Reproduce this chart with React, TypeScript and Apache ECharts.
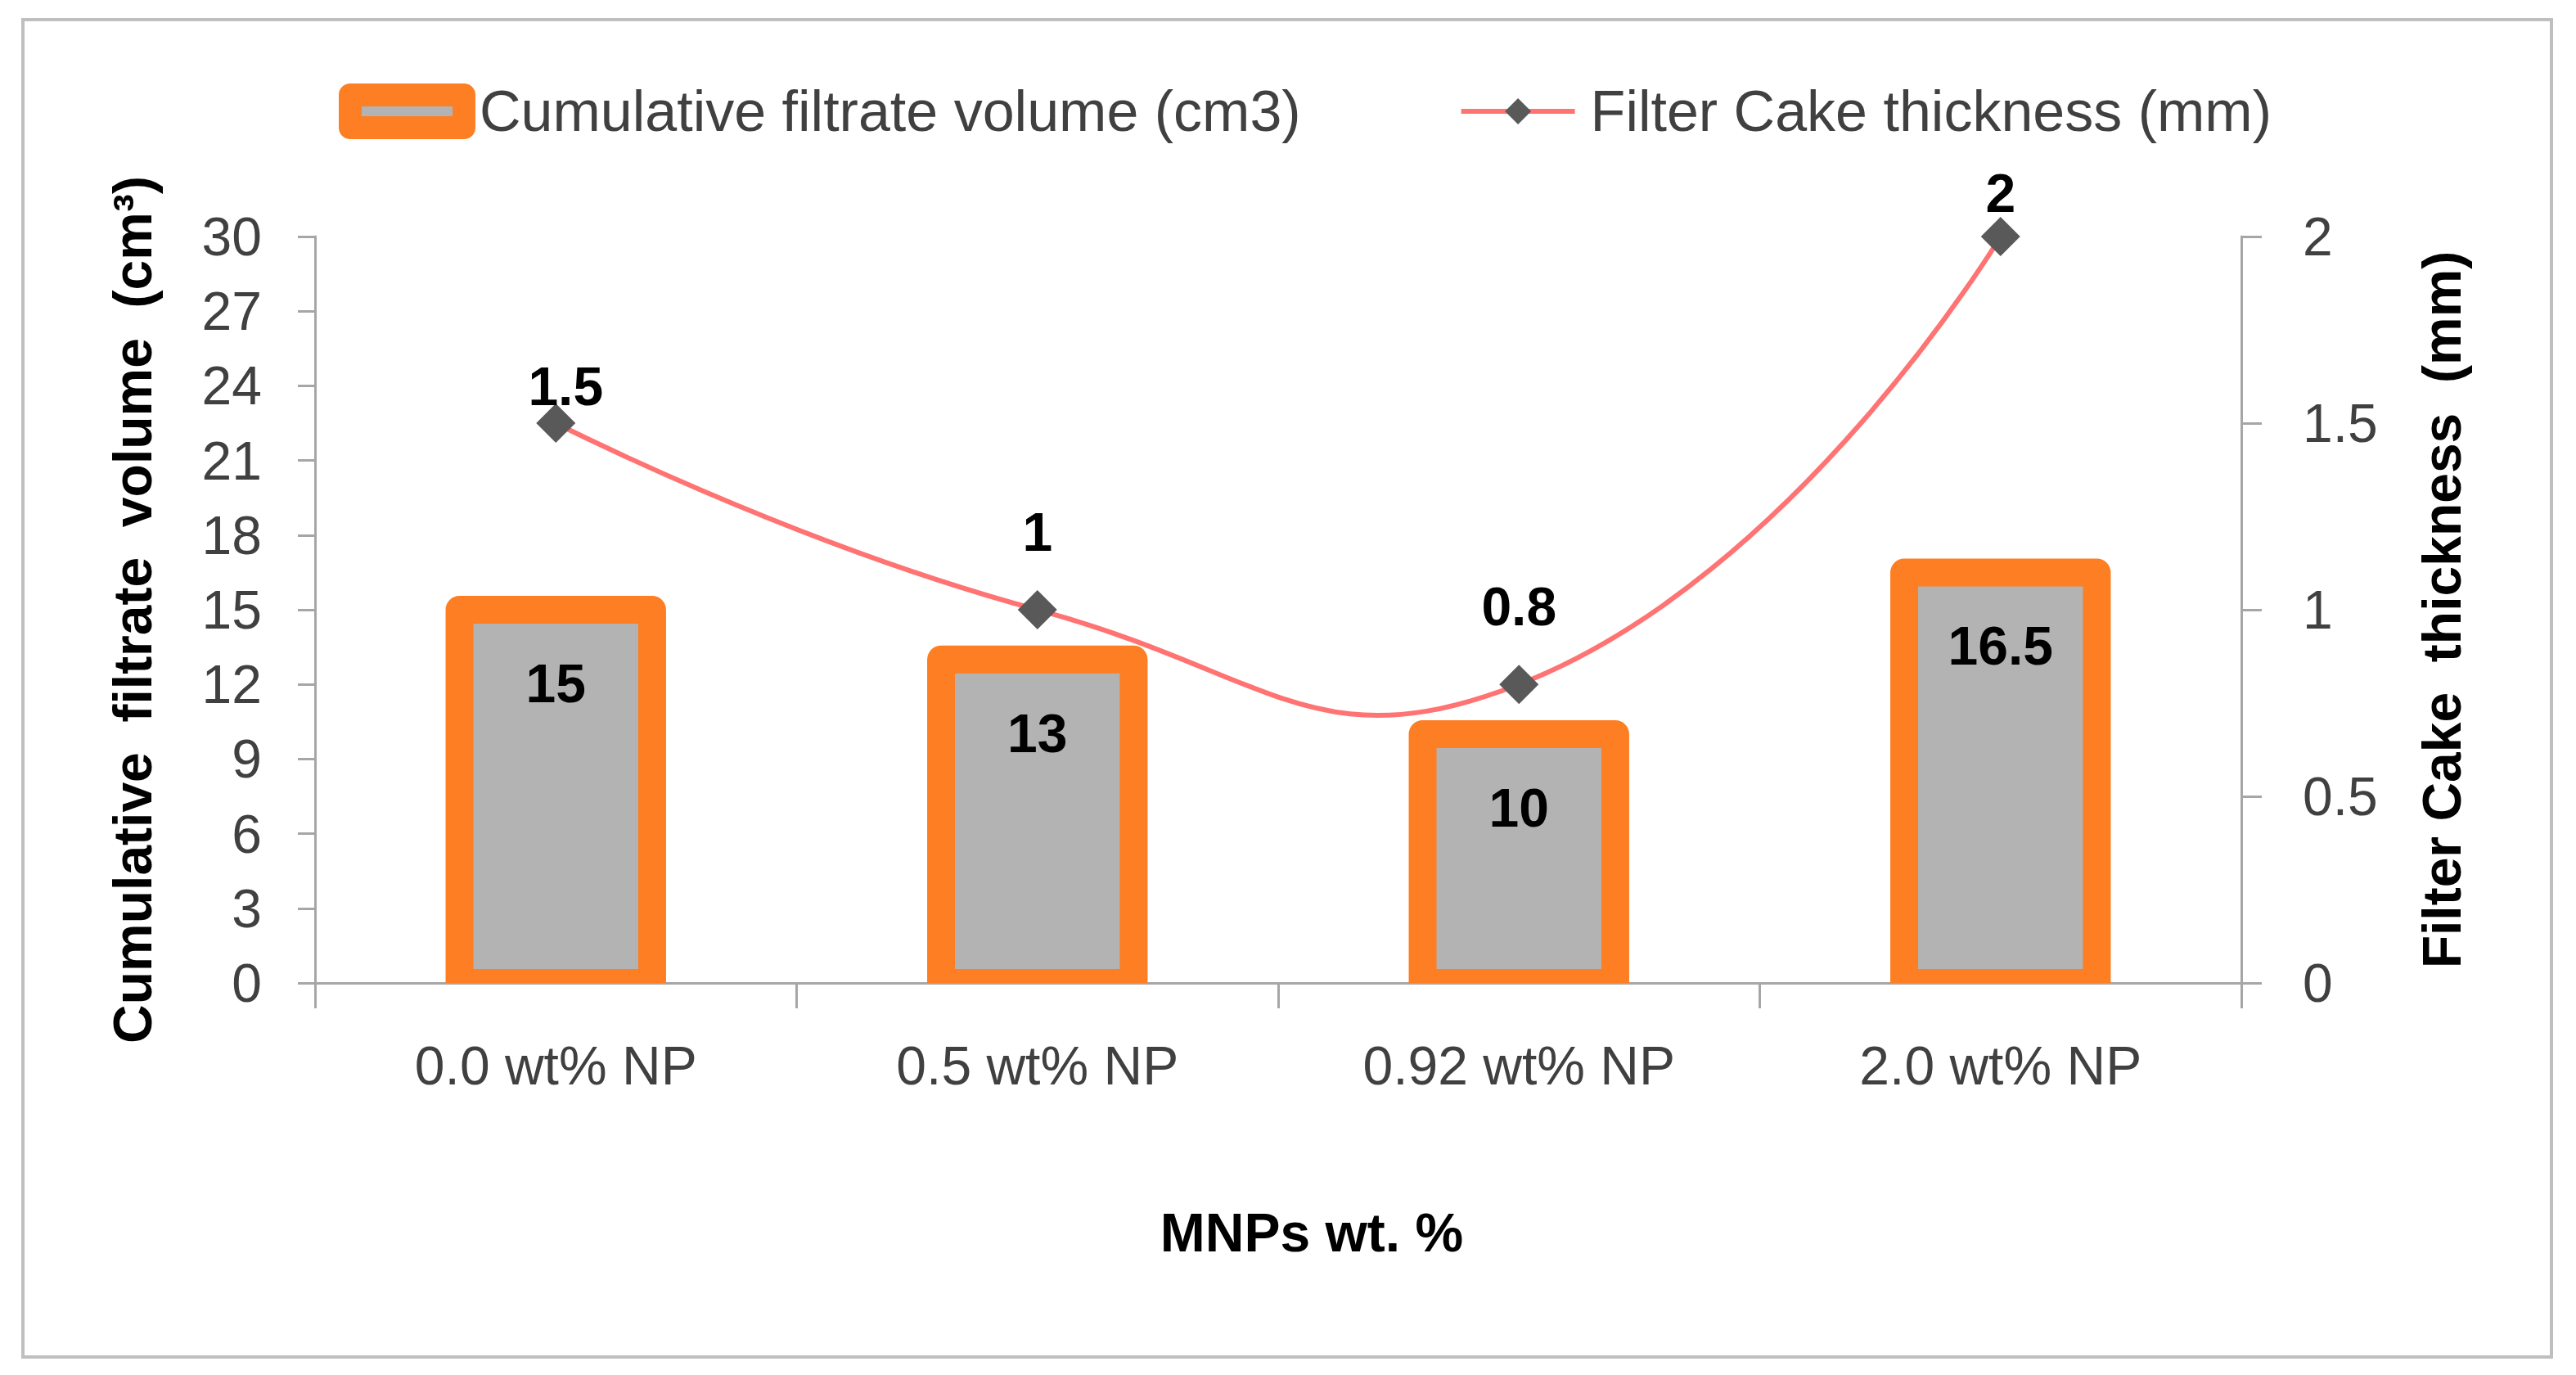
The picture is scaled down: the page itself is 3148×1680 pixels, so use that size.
import React, { useEffect, useRef } from "react";
import * as echarts from "echarts";

const categories = ["0.0 wt% NP", "0.5 wt% NP", "0.92 wt% NP", "2.0 wt% NP"];
const filtrateVolume = [15, 13, 10, 16.5];
const cakeThickness = [1.5, 1, 0.8, 2];
const leftAxisRange = [0, 30, 3];
const rightAxisRange = [0, 2, 0.5];

const seriesNames = ["Cumulative filtrate volume (cm3)", "Filter Cake thickness (mm)"];
const axisNames = ["MNPs wt. %", "Cumulative  filtrate  volume  (cm³)", "Filter Cake  thickness  (mm)"];

// label placement (style only)
const pointLabelDistance = [-12, 38, 38, -4];
const pointLabelShiftX = [12, 0, 0, 0];

const FONT = '"Liberation Sans", Arial, sans-serif';
const ORANGE = "#fd7e23";
const GRAY = "#b3b3b3";
const LINE_RED = "#ff7373";
const MARKER = "#595959";
const AXIS = "#a6a6a6";
const TXT = "#404040";

export default function App() {
  const ref = useRef<HTMLDivElement>(null);

  useEffect(() => {
    document.body.style.margin = "0";
    if (!ref.current) return;
    const chart = echarts.init(ref.current, undefined, { renderer: "svg" });

    const option: any = {
      animation: false,
      backgroundColor: "#ffffff",
      textStyle: { fontFamily: FONT },
      grid: { left: 385, right: 409, top: 289, bottom: 479, containLabel: false },
      legend: {
        left: 414,
        top: 101,
        padding: 0,
        itemGap: 193,
        itemWidth: 139,
        itemHeight: 40,
        textStyle: { fontSize: 70, color: TXT, fontFamily: FONT, padding: [0, 0, 0, 14] },
        data: [
          {
            name: seriesNames[0],
            icon: "rect",
            itemStyle: { color: GRAY, borderColor: ORANGE, borderWidth: 28, borderJoin: "round" },
          },
          {
            name: seriesNames[1],
            itemStyle: { color: MARKER },
            lineStyle: { color: LINE_RED, width: 6, opacity: 1 },
          },
        ],
      },
      xAxis: {
        type: "category",
        data: categories,
        boundaryGap: true,
        name: axisNames[0],
        nameLocation: "middle",
        nameGap: 272,
        nameTextStyle: { fontSize: 66, fontWeight: "bold", color: "#000", padding: [0, 0, 0, 82], fontFamily: FONT },
        axisLine: { show: true, lineStyle: { color: AXIS, width: 3 } },
        axisTick: { show: true, inside: false, length: 31, alignWithLabel: false, lineStyle: { color: AXIS, width: 3 } },
        axisLabel: { fontSize: 66, color: TXT, margin: 68, fontFamily: FONT },
        splitLine: { show: false },
      },
      yAxis: [
        {
          type: "value",
          position: "left",
          min: leftAxisRange[0],
          max: leftAxisRange[1],
          interval: leftAxisRange[2],
          name: axisNames[1],
          nameLocation: "middle",
          nameGap: 190,
          nameRotate: 90,
          nameTextStyle: { fontSize: 66, fontWeight: "bold", color: "#000", fontFamily: FONT },
          axisLine: { show: true, lineStyle: { color: AXIS, width: 3 } },
          axisTick: { show: true, inside: false, length: 21, lineStyle: { color: AXIS, width: 3 } },
          axisLabel: { fontSize: 66, color: TXT, margin: 65, fontFamily: FONT },
          splitLine: { show: false },
        },
        {
          type: "value",
          position: "right",
          min: rightAxisRange[0],
          max: rightAxisRange[1],
          interval: rightAxisRange[2],
          name: axisNames[2],
          nameLocation: "middle",
          nameGap: 212,
          nameRotate: 90,
          nameTextStyle: { fontSize: 66, fontWeight: "bold", color: "#000", fontFamily: FONT },
          axisLine: { show: true, lineStyle: { color: AXIS, width: 3 } },
          axisTick: { show: true, inside: false, length: 25, lineStyle: { color: AXIS, width: 3 } },
          axisLabel: { fontSize: 66, color: TXT, margin: 75, fontFamily: FONT },
          splitLine: { show: false },
        },
      ],
      series: [
        {
          name: seriesNames[0],
          type: "custom",
          xAxisIndex: 0,
          yAxisIndex: 0,
          clip: true,
          z: 2,
          itemStyle: { color: GRAY },
          encode: { x: 0, y: 1 },
          data: filtrateVolume.map((v, i) => [i, v]),
          renderItem: (params: any, api: any) => {
            const idx = api.value(0);
            const v = api.value(1);
            const top = api.coord([idx, v]);
            const base = api.coord([idx, 0]);
            const bw = api.size([1, 0])[0] * 0.4;
            return {
              type: "group",
              children: [
                {
                  type: "rect",
                  shape: { x: top[0] - bw / 2, y: top[1], width: bw, height: base[1] - top[1] },
                  style: { fill: GRAY, stroke: ORANGE, lineWidth: 34, lineJoin: "round" },
                },
                {
                  type: "text",
                  style: {
                    x: top[0],
                    y: top[1] + 90,
                    text: String(v),
                    fill: "#000",
                    fontSize: 66,
                    fontWeight: "bold",
                    fontFamily: FONT,
                    align: "center",
                    verticalAlign: "middle",
                  },
                },
              ],
            };
          },
        },
        {
          name: "thickness-curve",
          type: "custom",
          xAxisIndex: 0,
          yAxisIndex: 1,
          z: 3,
          silent: true,
          encode: { x: 0, y: 1 },
          data: [[0, cakeThickness[0]]],
          renderItem: (params: any, api: any) => {
            const pts = cakeThickness.map((v, i) => api.coord([i, v]));
            return {
              type: "polyline",
              shape: { points: pts, smooth: 0.5 },
              style: { fill: "none", stroke: LINE_RED, lineWidth: 6 },
            };
          },
        },
        {
          name: seriesNames[1],
          type: "line",
          xAxisIndex: 0,
          yAxisIndex: 1,
          data: cakeThickness.map((v, i) => ({
            value: v,
            label: { distance: pointLabelDistance[i], offset: [pointLabelShiftX[i], 0] },
          })),
          z: 4,
          symbol: "diamond",
          symbolSize: 48,
          itemStyle: { color: MARKER },
          lineStyle: { color: LINE_RED, width: 6, opacity: 0 },
          label: {
            show: true,
            position: "top",
            fontSize: 66,
            fontWeight: "bold",
            color: "#000",
            fontFamily: FONT,
          },
        },
      ],
      graphic: [
        {
          type: "rect",
          silent: true,
          z: 100,
          shape: { x: 28, y: 24, width: 3090, height: 1634 },
          style: { fill: "none", stroke: "#bfbfbf", lineWidth: 4 },
        },
      ],
    };

    chart.setOption(option);
    return () => chart.dispose();
  }, []);

  return <div ref={ref} style={{ width: 3148, height: 1680 }} />;
}
